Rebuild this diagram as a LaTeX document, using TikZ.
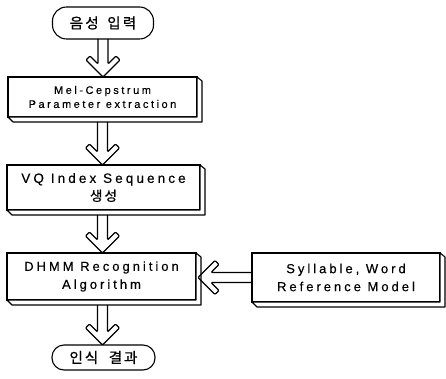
\documentclass[tikz,border=0pt]{standalone}
\usepackage{fontspec}
\setmainfont{Liberation Sans}
\newfontfamily\lsp[LetterSpace=23,FakeBold=0.3]{Liberation Sans}
\newfontfamily\kr[LetterSpace=16,FakeBold=0.8]{Noto Sans CJK KR}
\usetikzlibrary{calc}
\tikzset{
  lw/.style={line width=1.1pt},
  boxf/.style={lw, draw, fill=white, outer sep=0pt, inner sep=0pt, align=center},
  term/.style={lw, draw, fill=white, outer sep=0pt, inner sep=0pt, align=center},
  arr/.style={lw, line join=round, rounded corners=1pt},
}
\newcommand\slab[1]{%
  \draw[lw, fill=white, line join=round] (#1.north east) -- ++(5pt,-4pt)
    -- ($(#1.south east)+(5pt,-5pt)$) -- ($(#1.south west)+(5pt,-5pt)$)
    -- (#1.south west) -- (#1.south east) -- cycle;}
\newcommand\varr[2]{%
  \draw[arr] let \p1=#1, \p2=#2 in
    (\x1-5pt,\y1) -- (\x1-5pt,\y2+13pt) -- (\x1-13pt,\y2+21pt) -- (\x1-17pt,\y2+17pt)
    -- (\x1,\y2) -- (\x1+17pt,\y2+17pt) -- (\x1+13pt,\y2+21pt) -- (\x1+5pt,\y2+13pt)
    -- (\x1+5pt,\y1);}
\newcommand\harr[2]{%
  \draw[arr] let \p1=#1, \p2=#2 in
    (\x1,\y1+5pt) -- (\x2+13pt,\y1+5pt) -- (\x2+21pt,\y1+13pt) -- (\x2+17pt,\y1+17pt)
    -- (\x2,\y1) -- (\x2+17pt,\y1-17pt) -- (\x2+21pt,\y1-13pt) -- (\x2+13pt,\y1-5pt)
    -- (\x1,\y1-5pt);}
\begin{document}
\begin{tikzpicture}[x=1pt,y=1pt]
\useasboundingbox[fill=white] (0,0) rectangle (446,-379);
\node[term, rounded corners=14pt, minimum width=101pt, minimum height=32pt,
      font=\fontsize{14.5}{16}\selectfont\kr] (in) at (103,-23) {음성\hspace{3pt} 입력};
\node[boxf, minimum width=189pt, minimum height=40pt,
      font=\fontsize{11}{14}\selectfont\lsp] (b1) at (102.5,-97) {Mel-Cepstrum\\Parameter extraction};
\slab{b1}
\node[boxf, minimum width=193pt, minimum height=45pt,
      font=\fontsize{13.5}{18}\selectfont\lsp] (b2) at (103.5,-187.5) {VQ Index Sequence\\{\kr 생성}};
\slab{b2}
\node[boxf, minimum width=189pt, minimum height=47pt,
      font=\fontsize{13}{18}\selectfont\lsp] (b3) at (101.5,-276.5) {DHMM Recognition\\Algorithm};
\slab{b3}
\node[boxf, minimum width=188pt, minimum height=49pt,
      font=\fontsize{13}{18}\selectfont\lsp] (b4) at (346,-277.5) {Syllable, Word\\Reference Model};
\slab{b4}
\node[term, rounded corners=12pt, minimum width=103pt, minimum height=25pt,
      font=\fontsize{14.5}{16}\selectfont\kr] (out) at (103.5,-357.5) {인\hspace{2pt}식\hspace{5pt} 결\hspace{2pt}과};
\varr{(in.south)}{(b1.north)}
\varr{($(b1.south)+(0,-5pt)$)}{(b2.north)}
\varr{($(b2.south)+(-1pt,-5pt)$)}{(b3.north)}
\varr{($(b3.south)+(1pt,-5pt)$)}{(out.north)}
\harr{(b4.west)}{($(b3.east)+(2pt,0)$)}
\end{tikzpicture}
\end{document}
